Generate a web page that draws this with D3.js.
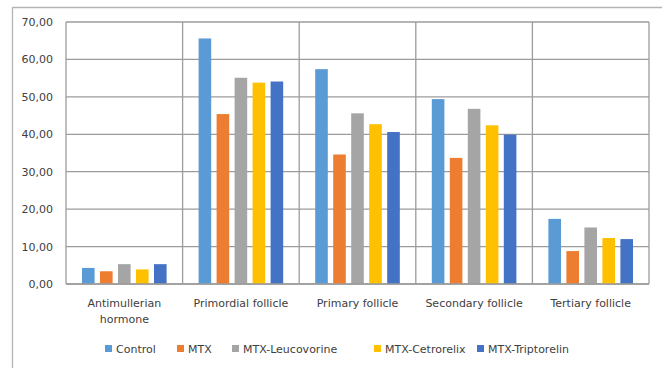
<!DOCTYPE html>
<html>
<head>
<meta charset="utf-8">
<script src="https://cdn.jsdelivr.net/npm/d3@7/dist/d3.min.js"></script>
<style>
  html, body { margin: 0; padding: 0; background: #fff; }
  svg text { font-family: "DejaVu Sans", Verdana, sans-serif; fill: #404040; }
</style>
</head>
<body>
<svg id="chart" width="662" height="368"></svg>
<script>
// Follicle counts and AMH by treatment group
const categories = ["Antimullerian hormone", "Primordial follicle", "Primary follicle", "Secondary follicle", "Tertiary follicle"];
const seriesNames = ["Control", "MTX", "MTX-Leucovorine", "MTX-Cetrorelix", "MTX-Triptorelin"];
const seriesColors = ["#5B9BD5", "#ED7D31", "#A5A5A5", "#FFC000", "#4472C4"];
const control = [4.3, 65.6, 57.4, 49.4, 17.4];
const mtx = [3.4, 45.4, 34.6, 33.7, 8.8];
const leucovorine = [5.3, 55.1, 45.6, 46.8, 15.1];
const cetrorelix = [3.9, 53.8, 42.7, 42.4, 12.3];
const triptorelin = [5.3, 54.1, 40.6, 39.9, 12.0];
const yTicks = [0, 10, 20, 30, 40, 50, 60, 70];

const seriesValues = [control, mtx, leucovorine, cetrorelix, triptorelin];
const svg = d3.select("#chart");

// outer frame (top and left edges)
svg.append("path")
  .attr("d", "M12.5,368 V7.5 H662")
  .attr("fill", "none").attr("stroke", "#b4b4b4").attr("stroke-width", 1.3);

const plot = { left: 66, right: 649, top: 22, bottom: 284 };

const x0 = d3.scaleBand().domain(categories).range([plot.left, plot.right]).paddingInner(0).paddingOuter(0);
const x1 = d3.scaleBand().domain(seriesNames).range([16, x0.bandwidth() - 16]).paddingInner(0.3).paddingOuter(0.0);
const y = d3.scaleLinear().domain([0, 70]).range([plot.bottom, plot.top]);

const gridColor = "#9c9c9c";

// horizontal gridlines
svg.append("g").selectAll("line").data(yTicks).join("line")
  .attr("x1", plot.left).attr("x2", plot.right)
  .attr("y1", d => y(d)).attr("y2", d => y(d))
  .attr("stroke", gridColor).attr("stroke-width", 1.3);

// vertical category dividers
const dividers = categories.map(c => x0(c)).concat([plot.right]);
svg.append("g").selectAll("line").data(dividers).join("line")
  .attr("x1", d => d).attr("x2", d => d)
  .attr("y1", plot.top).attr("y2", plot.bottom)
  .attr("stroke", gridColor).attr("stroke-width", 1.3);

// y tick labels
const fmt = v => d3.format(".2f")(v).replace(".", ",");
svg.append("g").selectAll("text").data(yTicks).join("text")
  .attr("x", 53).attr("y", d => y(d) + 4)
  .attr("text-anchor", "end").attr("font-size", 11)
  .text(fmt);

// bars
const groups = svg.append("g").selectAll("g").data(categories).join("g")
  .attr("transform", c => `translate(${x0(c)},0)`);
groups.selectAll("rect")
  .data((c, ci) => seriesNames.map((s, si) => ({ s, si, v: seriesValues[si][ci] })))
  .join("rect")
  .attr("x", d => x1(d.s))
  .attr("width", x1.bandwidth())
  .attr("y", d => y(d.v))
  .attr("height", d => y(0) - y(d.v))
  .attr("fill", d => seriesColors[d.si]);

// redraw baseline over bars
svg.append("line")
  .attr("x1", plot.left).attr("x2", plot.right)
  .attr("y1", y(0)).attr("y2", y(0))
  .attr("stroke", gridColor).attr("stroke-width", 1.3);

// category labels (wrapped)
const catLines = { "Antimullerian hormone": ["Antimullerian", "hormone"] };
categories.forEach(c => {
  const lines = catLines[c] || [c];
  const t = svg.append("text")
    .attr("x", x0(c) + x0.bandwidth() / 2)
    .attr("y", 307)
    .attr("text-anchor", "middle").attr("font-size", 11);
  lines.forEach((l, i) => {
    t.append("tspan").attr("x", x0(c) + x0.bandwidth() / 2).attr("dy", i === 0 ? 0 : 16).text(l);
  });
});

// legend
const legendX = [105, 177, 232, 374, 477];
const legend = svg.append("g").selectAll("g").data(seriesNames).join("g")
  .attr("transform", (d, i) => `translate(${legendX[i]},345)`);
legend.append("rect").attr("width", 7).attr("height", 7).attr("fill", (d, i) => seriesColors[i]);
legend.append("text").attr("x", 11).attr("y", 8).attr("font-size", 11).text(d => d);
</script>
</body>
</html>
